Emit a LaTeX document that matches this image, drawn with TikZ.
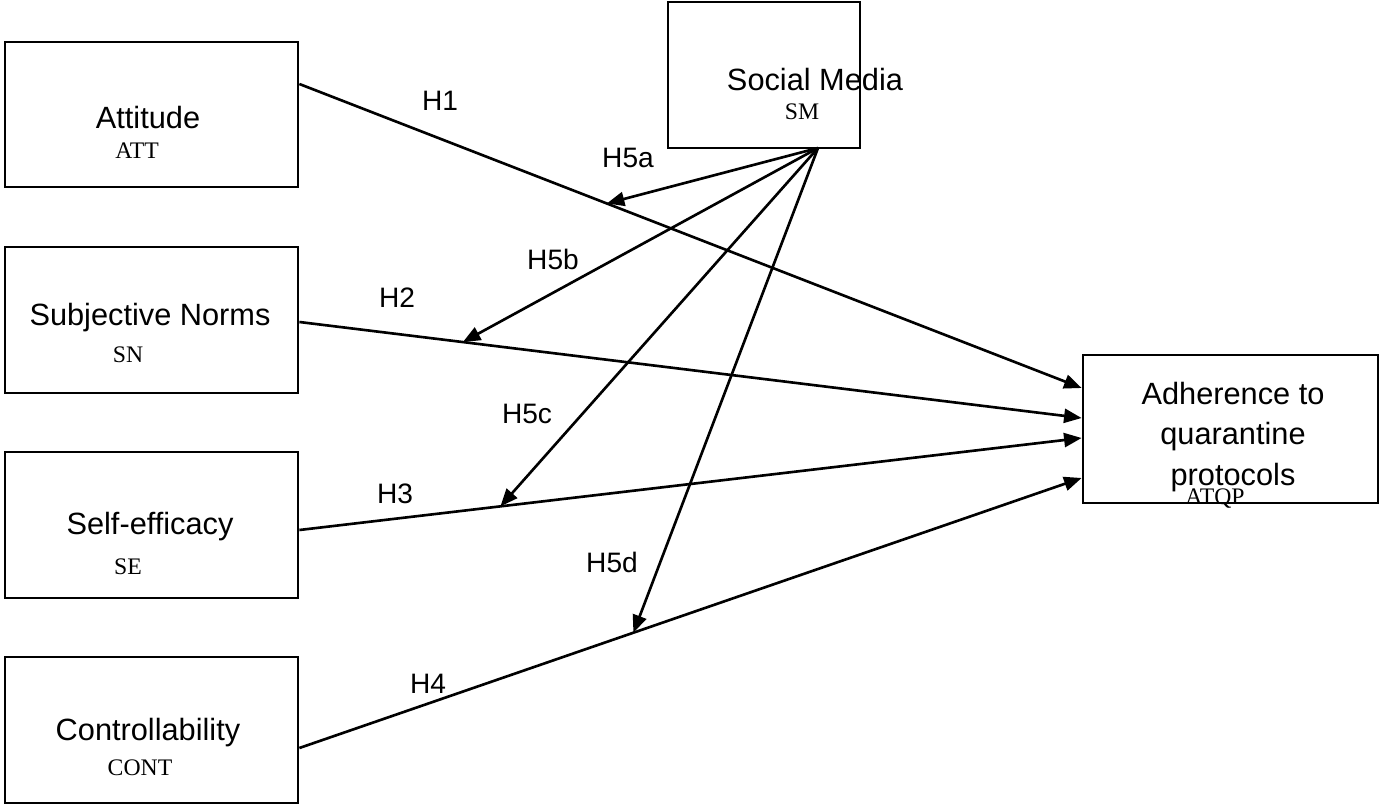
\documentclass[tikz,border=0pt]{standalone}
\usepackage{fontspec}
\setmainfont{Liberation Sans}
\newfontfamily\abbr{Liberation Serif}
\usetikzlibrary{arrows.meta,calc}
\begin{document}
\begin{tikzpicture}[x=0.02cm,y=-0.02cm,
  box/.style={draw,line width=1.6pt,inner sep=0pt},
  lbl/.style={font=\fontsize{17.5}{21}\selectfont,inner sep=0pt},
  ab/.style={font=\abbr\fontsize{13.5}{16}\selectfont,inner sep=0pt},
  hyp/.style={font=\fontsize{16}{19}\selectfont,inner sep=0pt},
  arr/.style={line width=1.5pt,-{Triangle[length=10pt,width=8pt]}}]
\useasboundingbox (0,0) rectangle (1382,807);
% boxes
\node[box,minimum width=5.86cm,minimum height=2.9cm] (att) at (151.5,114.5) {};
\node[box,minimum width=5.86cm,minimum height=2.92cm] (sn) at (151.5,320) {};
\node[box,minimum width=5.86cm,minimum height=2.92cm] (se) at (151.5,525) {};
\node[box,minimum width=5.86cm,minimum height=2.92cm] (cont) at (151.5,730) {};
\node[box,minimum width=3.84cm,minimum height=2.92cm] (sm) at (764,75) {};
\node[box,minimum width=5.9cm,minimum height=2.96cm] (atqp) at (1230.5,429) {};
% texts
\node[lbl] (tatt) at (148,118) {Attitude};
\node[ab] (aatt) at (137,151) {ATT};
\node[lbl] (tsn) at (150,318) {Subjective Norms};
\node[ab] (asn) at (128,355) {SN};
\node[lbl] (tse) at (150,527) {Self-efficacy};
\node[ab] (ase) at (128,567) {SE};
\node[lbl] (tcont) at (148,733) {Controllability};
\node[ab] (acont) at (140,768) {CONT};
\node[lbl] (tsm) at (815,80) {Social Media};
\node[ab] (asm) at (802,112) {SM};
\node[lbl,align=center] (tatqp) at (1233,437) {Adherence to\\[2pt]quarantine\\[2pt]protocols};
\node[ab] (aatqp) at (1215,499) {ATQP};
% connector endpoints
\coordinate (s1) at (att.east |- 0,84);
\coordinate (e1) at (atqp.west |- 0,388);
\coordinate (s2) at (sn.east |- 0,322);
\coordinate (e2) at (atqp.west |- 0,418);
\coordinate (s3) at (se.east |- 0,530);
\coordinate (e3) at (atqp.west |- 0,438);
\coordinate (s4) at (cont.east |- 0,748);
\coordinate (e4) at (atqp.west |- 0,478);
\coordinate (sm0) at (818,148);
\coordinate (m1) at ($(s1)!0.393!(e1)$);
\coordinate (m2) at ($(s2)!0.209!(e2)$);
\coordinate (m3) at ($(s3)!0.257!(e3)$);
\coordinate (m4) at ($(s4)!0.427!(e4)$);
% arrows
\draw[arr] (s1) -- (e1);
\draw[arr] (s2) -- (e2);
\draw[arr] (s3) -- (e3);
\draw[arr] (s4) -- (e4);
\draw[arr] (sm0) -- (m1);
\draw[arr] (sm0) -- (m2);
\draw[arr] (sm0) -- (m3);
\draw[arr] (sm0) -- (m4);
% hypothesis labels
\node[hyp] (h1) at (440,101) {H1};
\node[hyp] (h5a) at (628,158) {H5a};
\node[hyp] (h5b) at (553,259) {H5b};
\node[hyp] (h2) at (397,298) {H2};
\node[hyp] (h5c) at (527,414) {H5c};
\node[hyp] (h3) at (395,494) {H3};
\node[hyp] (h5d) at (612,562) {H5d};
\node[hyp] (h4) at (428,684) {H4};
\end{tikzpicture}
\end{document}
